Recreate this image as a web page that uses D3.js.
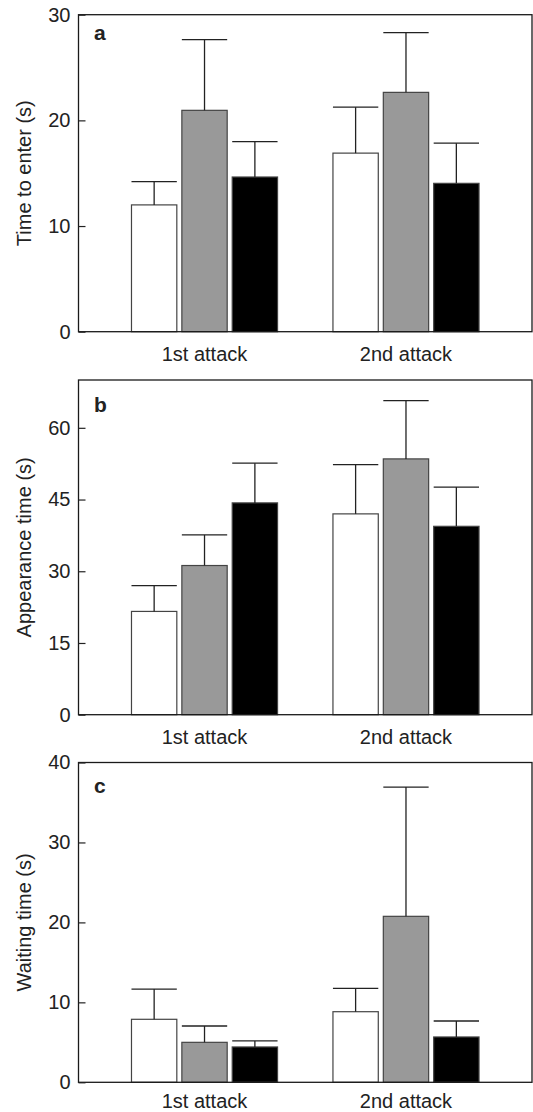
<!DOCTYPE html>
<html>
<head>
<meta charset="utf-8">
<script src="https://cdn.jsdelivr.net/npm/d3@7/dist/d3.min.js"></script>
<style>
  body { margin: 0; background: #fff; }
  text { font-family: "Liberation Sans", Arial, sans-serif; fill: #222; }
</style>
</head>
<body>
<div id="chart"></div>
<script>
// data
const groups = ["1st attack", "2nd attack"];
const treatments = ["white", "grey", "black"];

const enterMean = [[12.0, 20.95, 14.64], [16.9, 22.65, 14.04]];
const enterSE = [[2.2, 6.7, 3.35], [4.35, 5.65, 3.8]];
const enterTicks = [0, 10, 20, 30];

const appearMean = [[21.6, 31.2, 44.3], [42.0, 53.5, 39.4]];
const appearSE = [[5.4, 6.4, 8.3], [10.3, 12.2, 8.2]];
const appearTicks = [0, 15, 30, 45, 60];

const waitMean = [[7.88, 5.0, 4.42], [8.83, 20.76, 5.67]];
const waitSE = [[3.78, 2.04, 0.75], [2.93, 16.17, 2.0]];
const waitTicks = [0, 10, 20, 30, 40];

const fills = ["#ffffff", "#999999", "#000000"];

const svg = d3
  .select("#chart")
  .append("svg")
  .attr("width", 533)
  .attr("height", 1112);

const x0 = d3
    .scaleBand()
    .domain(groups)
    .range([78.5, 532])
    .paddingInner(0.275)
    .paddingOuter(0.263),
  x1 = d3
    .scaleBand()
    .domain(treatments)
    .range([0, x0.bandwidth()])
    .paddingInner(0.1);

function drawPanel(p) {
  const y = d3.scaleLinear().domain([0, p.max]).range([p.bottom, p.top]);
  const g = svg.append("g");

  const rows = [];
  groups.forEach((grp, i) => {
    treatments.forEach((t, j) => {
      rows.push({ grp, t, j, mean: p.mean[i][j], se: p.se[i][j] });
    });
  });

  // bars
  g.selectAll(".bar")
    .data(rows)
    .enter()
    .append("rect")
    .attr("x", d => x0(d.grp) + x1(d.t))
    .attr("y", d => y(d.mean))
    .attr("width", x1.bandwidth())
    .attr("height", d => y(0) - y(d.mean))
    .attr("fill", d => fills[d.j])
    .attr("stroke", "#444")
    .attr("stroke-width", 1.2);

  // error bars (upper only)
  g.selectAll(".err")
    .data(rows)
    .enter()
    .append("line")
    .attr("x1", d => x0(d.grp) + x1(d.t) + x1.bandwidth() / 2)
    .attr("x2", d => x0(d.grp) + x1(d.t) + x1.bandwidth() / 2)
    .attr("y1", d => y(d.mean))
    .attr("y2", d => y(d.mean + d.se))
    .attr("stroke", "#222")
    .attr("stroke-width", 1.3);
  g.selectAll(".cap")
    .data(rows)
    .enter()
    .append("line")
    .attr("x1", d => x0(d.grp) + x1(d.t))
    .attr("x2", d => x0(d.grp) + x1(d.t) + x1.bandwidth())
    .attr("y1", d => y(d.mean + d.se))
    .attr("y2", d => y(d.mean + d.se))
    .attr("stroke", "#222")
    .attr("stroke-width", 1.3);

  // frame
  g.append("rect")
    .attr("x", x0.range()[0])
    .attr("y", p.top)
    .attr("width", x0.range()[1] - x0.range()[0])
    .attr("height", p.bottom - p.top)
    .attr("fill", "none")
    .attr("stroke", "#1a1a1a")
    .attr("stroke-width", 1.3);

  // y axis, ticks pointing inward
  const yAxis = g
    .append("g")
    .attr("transform", `translate(${x0.range()[0]},0)`)
    .call(
      d3.axisLeft(y)
        .tickValues(p.ticks)
        .tickSizeInner(-7)
        .tickSizeOuter(0)
        .tickPadding(8)
    );
  yAxis.select(".domain").remove();
  yAxis.selectAll(".tick line").attr("stroke", "#222").attr("stroke-width", 1.2);
  yAxis
    .selectAll(".tick text")
    .attr("font-size", 20)
    .attr("font-family", null)
    .attr("fill", "#222");
  yAxis.attr("font-family", null);

  // category labels
  g.selectAll(".xlab")
    .data(groups)
    .enter()
    .append("text")
    .attr("x", d => x0(d) + x0.bandwidth() / 2)
    .attr("y", p.bottom + p.labDy)
    .attr("text-anchor", "middle")
    .attr("font-size", 20)
    .text(d => d);

  // axis title
  g.append("text")
    .attr("transform", `translate(30.5,${(p.top + p.bottom) / 2}) rotate(-90)`)
    .attr("text-anchor", "middle")
    .attr("font-size", 20)
    .text(p.title);

  // panel letter
  g.append("text")
    .attr("x", 94)
    .attr("y", p.top + p.letterDy)
    .attr("font-size", 21)
    .attr("font-weight", "bold")
    .text(p.letter);
}

const panels = [
  { letter: "a", title: "Time to enter (s)", mean: enterMean, se: enterSE, ticks: enterTicks, max: 30, top: 14.7, bottom: 331.7, labDy: 29.3, letterDy: 25.3 },
  { letter: "b", title: "Appearance time (s)", mean: appearMean, se: appearSE, ticks: appearTicks, max: 70, top: 380, bottom: 714.7, labDy: 29.3, letterDy: 31.5 },
  { letter: "c", title: "Waiting time (s)", mean: waitMean, se: waitSE, ticks: waitTicks, max: 40, top: 762.5, bottom: 1082.3, labDy: 25.5, letterDy: 30.8 }
];

panels.forEach(drawPanel);
</script>
</body>
</html>
